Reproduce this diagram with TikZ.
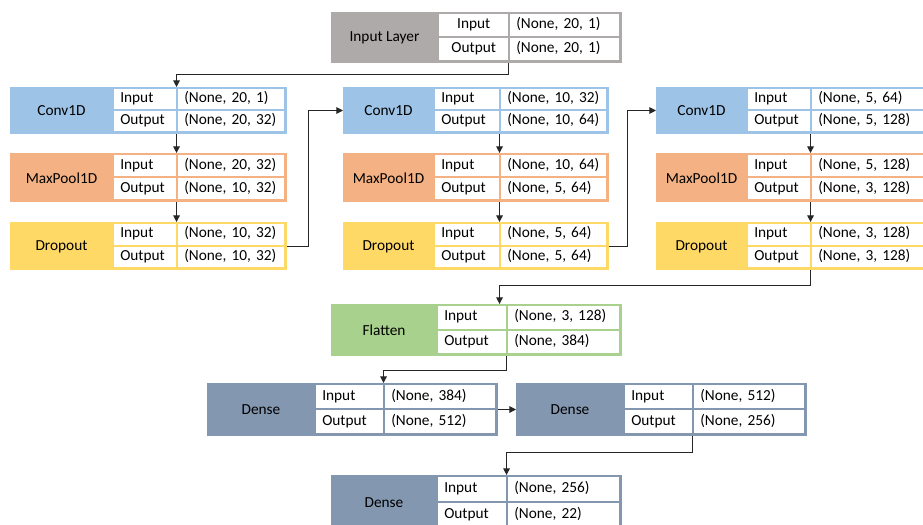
\documentclass[tikz,border=0pt]{standalone}
\usepackage{fontspec}
\setmainfont{Carlito}
\usetikzlibrary{arrows.meta}

\definecolor{inputgray}{HTML}{AEAAAA}
\definecolor{convblue}{HTML}{9DC3E6}
\definecolor{poolorange}{HTML}{F4B183}
\definecolor{dropyellow}{HTML}{FFD966}
\definecolor{flatgreen}{HTML}{A9D18E}
\definecolor{denseblue}{HTML}{8497B0}

%% label width / input cell width / value cell width / height
\def\parsedims#1/#2/#3/#4\relax{\def\labw{#1}\def\inw{#2}\def\valw{#3}\def\boxh{#4}}

%% name, left, top, dims, colour, label, input shape, output shape, cell alignment
\newcommand{\layerbox}[9]{%
  \parsedims#4\relax
  \node[layer,fill=#5,draw=#5,minimum width={(\labw+\inw+\valw)*0.75pt},minimum height={\boxh*0.75pt}] (#1) at (#2,#3) {};
  \node (#1-name) at ({#2+\labw/2},{#3+\boxh/2+1}) {#6};
  \node[cell,align=#9,text width={(\inw-2)*0.75pt-9pt},minimum height={(\boxh/2-3)*0.75pt}] (#1-in) at ({#2+\labw+1},{#3+2}) {\strut Input};
  \node[cell,align=#9,text width={(\inw-2)*0.75pt-9pt},minimum height={(\boxh/2-3)*0.75pt}] (#1-out) at ({#2+\labw+1},{#3+\boxh/2+1}) {\strut Output};
  \node[cell,align=left,text width={(\valw-3)*0.75pt-9pt},minimum height={(\boxh/2-3)*0.75pt}] (#1-inv) at ({#2+\labw+\inw+1},{#3+2}) {\strut #7};
  \node[cell,align=left,text width={(\valw-3)*0.75pt-9pt},minimum height={(\boxh/2-3)*0.75pt}] (#1-outv) at ({#2+\labw+\inw+1},{#3+\boxh/2+1}) {\strut #8};
}

\begin{document}
\begin{tikzpicture}[x=0.75pt,y=-0.75pt,
    font=\fontsize{11.5}{13}\selectfont,
    >={Triangle[length=5pt,width=5pt]},
    layer/.style={rectangle,anchor=north west,inner sep=0pt,line width=0.75pt},
    cell/.style={rectangle,fill=white,anchor=north west,inner xsep=4.5pt,inner ysep=0pt},
    link/.style={draw=black!85,line width=0.75pt,->}]
    \useasboundingbox (0,0) rectangle (923,524);
    %% input
    \layerbox{inl}{331}{12}{107/71/112/50}{inputgray}{Input Layer}{(None, 20, 1)}{(None, 20, 1)}{center}
    %% first column
    \layerbox{c1}{10}{87}{103/64/109/46}{convblue}{Conv1D}{(None, 20, 1)}{(None, 20, 32)}{left}
    \layerbox{m1}{10}{153}{103/64/109/48}{poolorange}{MaxPool1D}{(None, 20, 32)}{(None, 10, 32)}{left}
    \layerbox{d1}{10}{222}{103/64/109/47}{dropyellow}{Dropout}{(None, 10, 32)}{(None, 10, 32)}{left}
    %% second column
    \layerbox{c2}{343}{87}{91/66/108/46}{convblue}{Conv1D}{(None, 10, 32)}{(None, 10, 64)}{left}
    \layerbox{m2}{343}{153}{91/66/108/48}{poolorange}{MaxPool1D}{(None, 10, 64)}{(None, 5, 64)}{left}
    \layerbox{d2}{343}{222}{91/66/108/47}{dropyellow}{Dropout}{(None, 5, 64)}{(None, 5, 64)}{left}
    %% third column
    \layerbox{c3}{656}{87}{91/64/114/46}{convblue}{Conv1D}{(None, 5, 64)}{(None, 5, 128)}{left}
    \layerbox{m3}{656}{153}{91/64/114/48}{poolorange}{MaxPool1D}{(None, 5, 128)}{(None, 3, 128)}{left}
    \layerbox{d3}{656}{222}{91/64/114/47}{dropyellow}{Dropout}{(None, 3, 128)}{(None, 3, 128)}{left}
    %% head
    \layerbox{fl}{331}{304}{106/70/114/51}{flatgreen}{Flatten}{(None, 3, 128)}{(None, 384)}{left}
    \layerbox{de1}{207}{383}{108/69/113/52}{denseblue}{Dense}{(None, 384)}{(None, 512)}{left}
    \layerbox{de2}{516}{383}{108/69/113/52}{denseblue}{Dense}{(None, 512)}{(None, 256)}{left}
    \layerbox{de3}{331}{475}{106/70/114/54}{denseblue}{Dense}{(None, 256)}{(None, 22)}{left}
    %% links
    \draw[link] (inl-out.south east |- inl.south) -- ++(0,12) -| (c1-in.north east |- c1.north);
    \foreach \k in {1,2,3} {
        \draw[link] (c\k-out.south east |- c\k.south) -- (m\k-in.north east |- m\k.north);
        \draw[link] (m\k-out.south east |- m\k.south) -- (d\k-in.north east |- d\k.north);
    }
    \draw[link] (d1.east) -- ++(21,0) |- (c2.west);
    \draw[link] (d2.east) -- ++(18,0) |- (c3.west);
    \draw[link] (d3-out.south east |- d3.south) -- ++(0,15) -| (d2-in.south east |- fl.north);
    \draw[link] (fl-out.south east |- fl.south) -- ++(0,14) -| (de1-in.north east |- de1.north);
    \draw[link] (de1.east) -- (de2.west);
    \draw[link] (de2-out.south east |- de2.south) -- ++(0,16) -| (de3-in.north east |- de3.north);
\end{tikzpicture}
\end{document}
